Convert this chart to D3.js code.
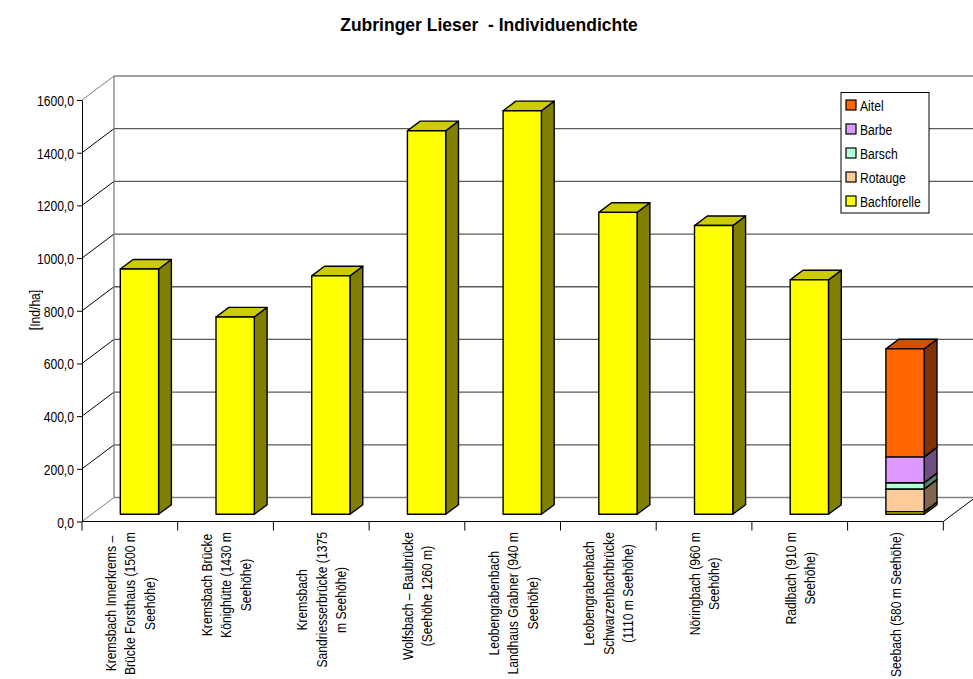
<!DOCTYPE html>
<html>
<head>
<meta charset="utf-8">
<script src="https://cdn.jsdelivr.net/npm/d3@7/dist/d3.min.js"></script>
<style>
  html, body { margin: 0; padding: 0; background: #fff; }
  svg { display: block; }
  text { font-family: "Liberation Sans", Arial, sans-serif; fill: #000; }
</style>
</head>
<body>
<svg id="chart" width="973" height="679"></svg>
<script>
// Sampling sites (line breaks as shown under the axis)
const categories = [
  "Kremsbach Innerkrems – Brücke Forsthaus (1500 m Seehöhe)",
  "Kremsbach Brücke Könighütte (1430 m Seehöhe)",
  "Kremsbach Sandriesserbrücke  (1375 m Seehöhe)",
  "Wolfsbach – Baubrücke (Seehöhe 1260 m)",
  "Leobengrabenbach Landhaus Grabner  (940 m Seehöhe)",
  "Leobengrabenbach Schwarzenbachbrücke (1110 m Seehöhe)",
  "Nöringbach (960 m Seehöhe)",
  "Radlbach (910 m Seehöhe)",
  "Seebach (580 m Seehöhe)"
];
const categoryLines = [
  ["Kremsbach Innerkrems –", "Brücke Forsthaus (1500 m", "Seehöhe)"],
  ["Kremsbach Brücke", "Könighütte (1430 m", "Seehöhe)"],
  ["Kremsbach", "Sandriesserbrücke  (1375", "m Seehöhe)"],
  ["Wolfsbach – Baubrücke", "(Seehöhe 1260 m)"],
  ["Leobengrabenbach", "Landhaus Grabner  (940 m", "Seehöhe)"],
  ["Leobengrabenbach", "Schwarzenbachbrücke", "(1110 m Seehöhe)"],
  ["Nöringbach (960 m", "Seehöhe)"],
  ["Radlbach (910 m", "Seehöhe)"],
  ["Seebach (580 m Seehöhe)"]
];

// Individual density [Ind/ha] per species
const bachforelle = [931, 749, 905, 1456, 1532, 1146, 1096, 890, 10];
const rotauge     = [0, 0, 0, 0, 0, 0, 0, 0, 86];
const barsch      = [0, 0, 0, 0, 0, 0, 0, 0, 24];
const barbe       = [0, 0, 0, 0, 0, 0, 0, 0, 98];
const aitel       = [0, 0, 0, 0, 0, 0, 0, 0, 410];

const seriesNames  = ["Bachforelle", "Rotauge", "Barsch", "Barbe", "Aitel"];
const seriesColors = ["#FFFF00", "#FFCC99", "#B3FFD9", "#DD99FF", "#FF6600"];
const legendOrder  = ["Aitel", "Barbe", "Barsch", "Rotauge", "Bachforelle"];

const yTicks = [0, 200, 400, 600, 800, 1000, 1200, 1400, 1600];

const titleText = "Zubringer Lieser  - Individuendichte";
const yTitle = "[Ind/ha]";

// ---- layout ----
const svg = d3.select("#chart");
const NARROW = 0.81;           // horizontal glyph squeeze (narrow face)
const DX = 32, DY = 24;        // depth vector of the 3D box
const F0 = 0.3, F1 = 0.7;      // bar depth span (fraction of box depth)

const y = d3.scaleLinear().domain([0, 1600]).range([521.5, 100]);
const x = d3.scaleBand().domain(categories).range([82, 943.3])
  .paddingInner(0.6).paddingOuter(0.3);
const bw = x.bandwidth();
const step = x.step();
const x0 = x.range()[0], x1 = x.range()[1];

const proj = (px, v, f) => [px + f * DX, y(v) - f * DY];
const pt = p => p.join(",");

const rows = categories.map((c, i) => ({
  cat: c,
  Bachforelle: bachforelle[i], Rotauge: rotauge[i], Barsch: barsch[i],
  Barbe: barbe[i], Aitel: aitel[i]
}));
const stacked = d3.stack().keys(seriesNames)(rows);
const color = d3.scaleOrdinal().domain(seriesNames).range(seriesColors);

// ---- walls and gridlines ----
const walls = svg.append("g");
yTicks.forEach(t => {
  const edge = (t === 0 || t === 1600);
  const a = proj(x0, t, 0), b = proj(x0, t, 1), c = proj(x1, t, 1);
  walls.append("line").attr("x1", a[0]).attr("y1", a[1]).attr("x2", b[0]).attr("y2", b[1])
    .attr("stroke", edge ? "#808080" : "#000").attr("stroke-width", 1);
  walls.append("line").attr("x1", b[0]).attr("y1", b[1]).attr("x2", c[0] + 5).attr("y2", c[1])
    .attr("stroke", edge ? "#808080" : "#5a5a5a").attr("stroke-width", 1.3);
});
{
  const a = proj(x0, 0, 1), b = proj(x0, 1600, 1);
  walls.append("line").attr("x1", a[0]).attr("y1", a[1]).attr("x2", b[0]).attr("y2", b[1])
    .attr("stroke", "#808080").attr("stroke-width", 1.3);
  const r0 = proj(x1, 0, 0), r1 = proj(x1, 0, 1);
  walls.append("line").attr("x1", r0[0]).attr("y1", r0[1]).attr("x2", r1[0]).attr("y2", r1[1])
    .attr("stroke", "#000").attr("stroke-width", 1);
}

// ---- legend (opaque, sits over the back wall) ----
const legend = svg.append("g").attr("transform", "translate(841,92.5)");
legend.append("rect").attr("width", 88).attr("height", 120.5)
  .attr("fill", "#fff").attr("stroke", "#000").attr("stroke-width", 1);
legendOrder.forEach((name, i) => {
  const g = legend.append("g").attr("transform", `translate(5,${12.5 + i * 24})`);
  g.append("rect").attr("x", 0).attr("y", -5).attr("width", 10).attr("height", 10)
    .attr("fill", color(name)).attr("stroke", "#000").attr("stroke-width", 1.2);
  g.append("text").attr("transform", `translate(14,5.5) scale(${NARROW},1)`)
    .style("font-size", "15px").text(name);
});

// ---- bars ----
const bars = svg.append("g").attr("stroke", "#000").attr("stroke-width", 1.4)
  .attr("stroke-linejoin", "round");
categories.forEach((c, i) => {
  const xl = x(c), xr = xl + bw;
  stacked.forEach(layer => {
    const [v0, v1] = layer[i];
    if (v1 - v0 <= 0) return;
    const base = d3.color(color(layer.key));
    const side = d3.rgb(base.r * 0.5, base.g * 0.5, base.b * 0.5);
    const top = d3.rgb(base.r * 0.8, base.g * 0.8, base.b * 0.8);
    bars.append("polygon")
      .attr("points", [proj(xr, v0, F0), proj(xr, v0, F1), proj(xr, v1, F1), proj(xr, v1, F0)].map(pt).join(" "))
      .attr("fill", side);
    bars.append("polygon")
      .attr("points", [proj(xl, v1, F0), proj(xr, v1, F0), proj(xr, v1, F1), proj(xl, v1, F1)].map(pt).join(" "))
      .attr("fill", top);
    const p = proj(xl, v1, F0), q = proj(xr, v0, F0);
    bars.append("rect").attr("x", p[0]).attr("y", p[1])
      .attr("width", q[0] - p[0]).attr("height", q[1] - p[1]).attr("fill", base);
  });
});

// ---- y axis ----
const yAxis = svg.append("g").attr("transform", `translate(${x0},0)`)
  .call(d3.axisLeft(y).tickValues(yTicks).tickSize(5).tickSizeOuter(0).tickPadding(3)
    .tickFormat(d => d3.format(".1f")(d).replace(".", ",")));
yAxis.select(".domain").attr("stroke", "#000");
yAxis.selectAll(".tick line").attr("stroke", "#000");
yAxis.selectAll(".tick text")
  .attr("font-family", null).attr("font-size", null)
  .style("font-size", "15px")
  .attr("x", null).attr("dy", null)
  .attr("text-anchor", "end")
  .attr("transform", `translate(-8,5.5) scale(${NARROW},1)`);

svg.append("text")
  .attr("transform", `translate(40,310) rotate(-90) scale(${NARROW},1)`)
  .attr("text-anchor", "middle").style("font-size", "15px").text(yTitle);

// ---- x axis (front floor edge) ----
const xa = svg.append("g");
xa.append("line").attr("x1", x0).attr("x2", x1).attr("y1", y(0)).attr("y2", y(0))
  .attr("stroke", "#000").attr("stroke-width", 1.2);
d3.range(categories.length + 1).forEach(k => {
  const px = x0 + k * step;
  xa.append("line").attr("x1", px).attr("x2", px).attr("y1", y(0)).attr("y2", y(0) + 9)
    .attr("stroke", "#000").attr("stroke-width", 1);
});

const labelTop = y(0) + 10.5;
categories.forEach((c, i) => {
  const lines = categoryLines[i];
  const cx = x(c) + bw / 2;
  const g = xa.append("g");
  const texts = lines.map(s => g.append("text").style("font-size", "15px")
    .attr("text-anchor", "middle").text(s));
  const maxLen = d3.max(texts, t => t.node().getComputedTextLength()) * NARROW;
  texts.forEach((t, j) => {
    const lx = cx + (j - (lines.length - 1) / 2) * 19.5 + 5.5;
    t.attr("transform", `translate(${lx},${labelTop + maxLen / 2}) rotate(-90) scale(${NARROW},1)`);
  });
});

// ---- title ----
svg.append("text").attr("x", 489).attr("y", 31)
  .attr("text-anchor", "middle")
  .style("font-size", "17.5px").style("font-weight", "bold").style("white-space", "pre")
  .text(titleText);
</script>
</body>
</html>
